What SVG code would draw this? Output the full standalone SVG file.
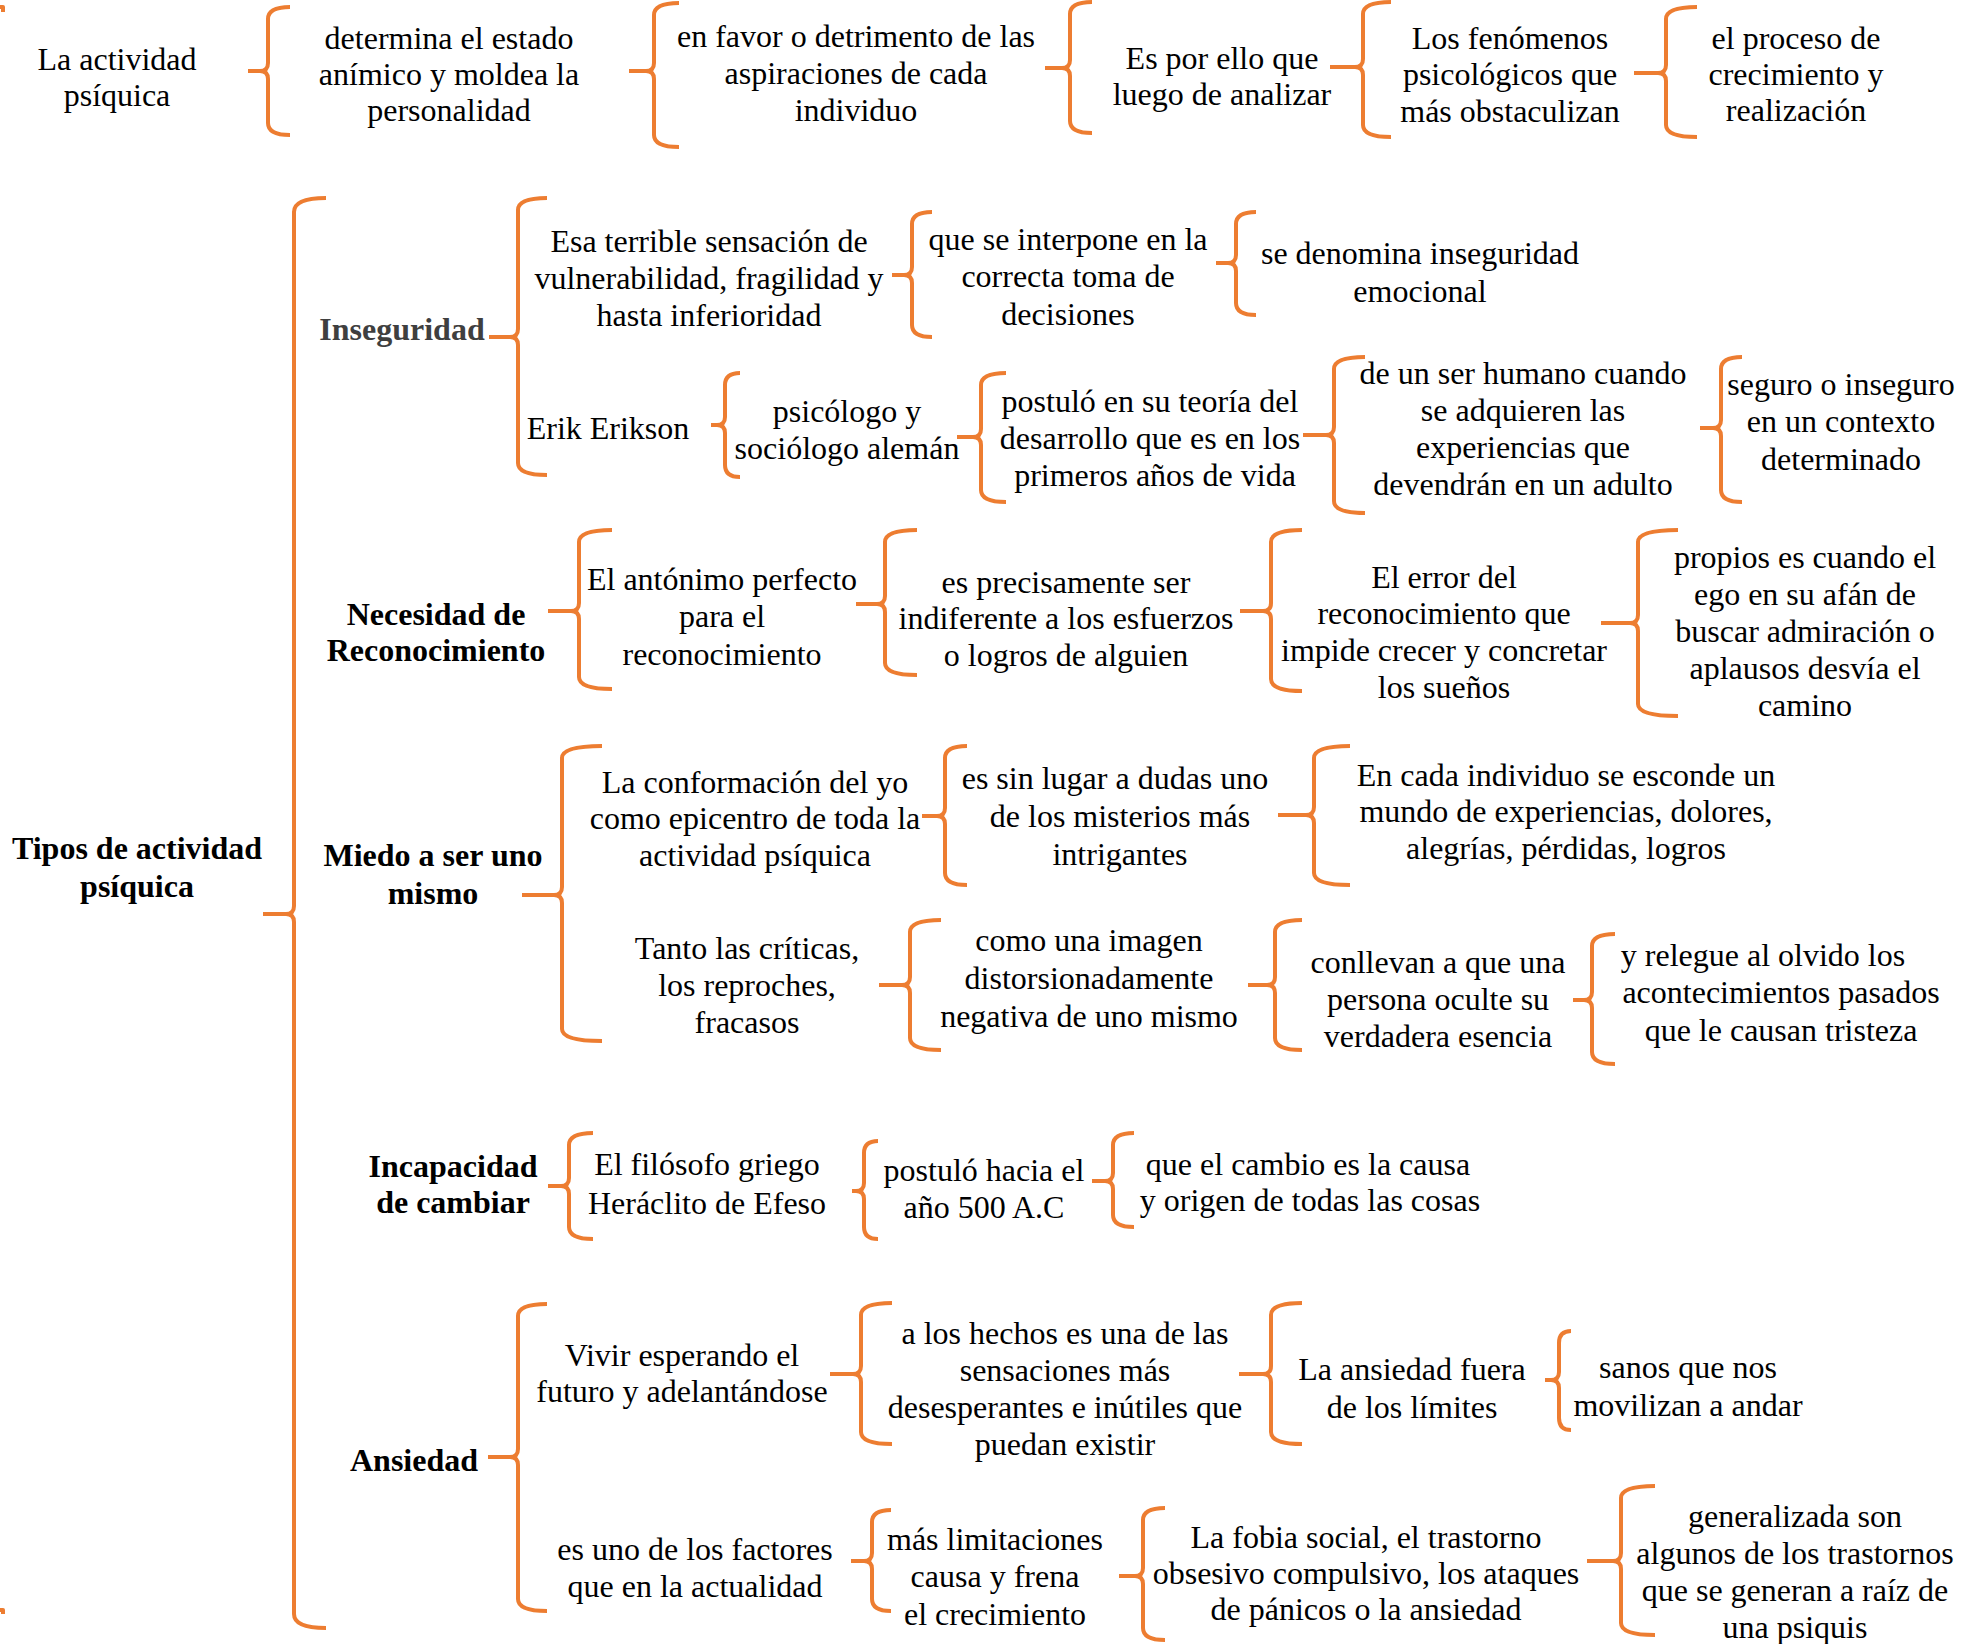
<svg xmlns="http://www.w3.org/2000/svg" width="1963" height="1644" viewBox="0 0 1963 1644">
<style>
.t{font-family:"Liberation Serif","Times New Roman",serif;font-size:32px;fill:#000;text-anchor:middle}
.b{font-weight:bold}
.g{fill:#3f3f3f}
.br{fill:none;stroke:#ED7D31;stroke-width:4;stroke-linejoin:round}
</style>
<rect width="1963" height="1644" fill="#fff"/>
<g id="connectors">
<path class="br" d="M0,7 H3 V12"/>
<path class="br" d="M0,1610 H3 V1614"/>
<path class="br" d="M290,7 Q268,7 268,19 V63 Q268,71 260,71 H248 M260,71 Q268,71 268,79 V123 Q268,135 290,135"/>
<path class="br" d="M679,3 Q654,3 654,15 V63 Q654,71 646,71 H629 M646,71 Q654,71 654,79 V135 Q654,147 679,147"/>
<path class="br" d="M1092,2 Q1070,2 1070,14 V60 Q1070,68 1062,68 H1045 M1062,68 Q1070,68 1070,76 V121 Q1070,133 1092,133"/>
<path class="br" d="M1391,2 Q1363,2 1363,14 V59 Q1363,67 1355,67 H1330 M1355,67 Q1363,67 1363,75 V125 Q1363,137 1391,137"/>
<path class="br" d="M1697,7 Q1666,7 1666,19 V65 Q1666,73 1658,73 H1634 M1658,73 Q1666,73 1666,81 V125 Q1666,137 1697,137"/>
<path class="br" d="M326,198 Q294,198 294,212 V906 Q294,914 286,914 H263 M286,914 Q294,914 294,922 V1614 Q294,1628 326,1628"/>
<path class="br" d="M547,198 Q518,198 518,210 V329 Q518,337 510,337 H489 M510,337 Q518,337 518,345 V463 Q518,475 547,475"/>
<path class="br" d="M932,212 Q912,212 912,224 V267 Q912,275 904,275 H892 M904,275 Q912,275 912,283 V325 Q912,337 932,337"/>
<path class="br" d="M1256,212 Q1236,212 1236,224 V255 Q1236,263 1228,263 H1216 M1228,263 Q1236,263 1236,271 V303 Q1236,315 1256,315"/>
<path class="br" d="M740,373 Q725,373 725,385 V417 Q725,425 717,425 H711 M717,425 Q725,425 725,433 V465 Q725,477 740,477"/>
<path class="br" d="M1006,373 Q981,373 981,385 V429 Q981,437 973,437 H957 M973,437 Q981,437 981,445 V490 Q981,502 1006,502"/>
<path class="br" d="M1365,357 Q1334,357 1334,369 V427 Q1334,435 1326,435 H1303 M1326,435 Q1334,435 1334,443 V501 Q1334,513 1365,513"/>
<path class="br" d="M1742,357 Q1721,357 1721,369 V420 Q1721,428 1713,428 H1700 M1713,428 Q1721,428 1721,436 V490 Q1721,502 1742,502"/>
<path class="br" d="M612,530 Q579,530 579,542 V603 Q579,611 571,611 H548 M571,611 Q579,611 579,619 V677 Q579,689 612,689"/>
<path class="br" d="M917,530 Q885,530 885,542 V596 Q885,604 877,604 H856 M877,604 Q885,604 885,612 V663 Q885,675 917,675"/>
<path class="br" d="M1302,530 Q1271,530 1271,542 V603 Q1271,611 1263,611 H1240 M1263,611 Q1271,611 1271,619 V679 Q1271,691 1302,691"/>
<path class="br" d="M1678,530 Q1638,530 1638,542 V615 Q1638,623 1630,623 H1601 M1630,623 Q1638,623 1638,631 V704 Q1638,716 1678,716"/>
<path class="br" d="M602,746 Q562,746 562,758 V887 Q562,895 554,895 H522 M554,895 Q562,895 562,903 V1029 Q562,1041 602,1041"/>
<path class="br" d="M967,746 Q945,746 945,758 V808 Q945,816 937,816 H922 M937,816 Q945,816 945,824 V873 Q945,885 967,885"/>
<path class="br" d="M1350,746 Q1314,746 1314,758 V807 Q1314,815 1306,815 H1278 M1306,815 Q1314,815 1314,823 V873 Q1314,885 1350,885"/>
<path class="br" d="M941,920 Q910,920 910,932 V977 Q910,985 902,985 H879 M902,985 Q910,985 910,993 V1038 Q910,1050 941,1050"/>
<path class="br" d="M1302,920 Q1275,920 1275,932 V977 Q1275,985 1267,985 H1248 M1267,985 Q1275,985 1275,993 V1038 Q1275,1050 1302,1050"/>
<path class="br" d="M1615,934 Q1592,934 1592,946 V992 Q1592,1000 1584,1000 H1573 M1584,1000 Q1592,1000 1592,1008 V1052 Q1592,1064 1615,1064"/>
<path class="br" d="M593,1133 Q569,1133 569,1145 V1178 Q569,1186 561,1186 H548 M561,1186 Q569,1186 569,1194 V1227 Q569,1239 593,1239"/>
<path class="br" d="M878,1141 Q864,1141 864,1153 V1183 Q864,1191 856,1191 H852 M856,1191 Q864,1191 864,1199 V1227 Q864,1239 878,1239"/>
<path class="br" d="M1134,1133 Q1113,1133 1113,1145 V1173 Q1113,1181 1105,1181 H1092 M1105,1181 Q1113,1181 1113,1189 V1215 Q1113,1227 1134,1227"/>
<path class="br" d="M547,1304 Q518,1304 518,1316 V1449 Q518,1457 510,1457 H488 M510,1457 Q518,1457 518,1465 V1599 Q518,1611 547,1611"/>
<path class="br" d="M892,1303 Q861,1303 861,1315 V1366 Q861,1374 853,1374 H830 M853,1374 Q861,1374 861,1382 V1432 Q861,1444 892,1444"/>
<path class="br" d="M1302,1303 Q1271,1303 1271,1315 V1366 Q1271,1374 1263,1374 H1239 M1263,1374 Q1271,1374 1271,1382 V1432 Q1271,1444 1302,1444"/>
<path class="br" d="M1571,1331 Q1559,1331 1559,1343 V1372 Q1559,1380 1551,1380 H1545 M1551,1380 Q1559,1380 1559,1388 V1418 Q1559,1430 1571,1430"/>
<path class="br" d="M891,1510 Q872,1510 872,1522 V1553 Q872,1561 864,1561 H851 M864,1561 Q872,1561 872,1569 V1599 Q872,1611 891,1611"/>
<path class="br" d="M1165,1508 Q1143,1508 1143,1520 V1568 Q1143,1576 1135,1576 H1119 M1135,1576 Q1143,1576 1143,1584 V1628 Q1143,1640 1165,1640"/>
<path class="br" d="M1655,1486 Q1621,1486 1621,1498 V1553 Q1621,1561 1613,1561 H1587 M1613,1561 Q1621,1561 1621,1569 V1623 Q1621,1635 1655,1635"/>
</g>
<g id="nodes" transform="translate(0,1.5)">
<g id="n-actividad"><text class="t" x="117" y="68"><tspan x="117">La actividad</tspan><tspan x="117" dy="36">psíquica</tspan></text></g>
<g id="n-determina"><text class="t" x="449" y="47"><tspan x="449">determina el estado</tspan><tspan x="449" dy="36">anímico y moldea la</tspan><tspan x="449" dy="36">personalidad</tspan></text></g>
<g id="n-favor"><text class="t" x="856" y="45"><tspan x="856">en favor o detrimento de las</tspan><tspan x="856" dy="37">aspiraciones de cada</tspan><tspan x="856" dy="37">individuo</tspan></text></g>
<g id="n-esporello"><text class="t" x="1222" y="67"><tspan x="1222">Es por ello que</tspan><tspan x="1222" dy="36">luego de analizar</tspan></text></g>
<g id="n-fenomenos"><text class="t" x="1510" y="47"><tspan x="1510">Los fenómenos</tspan><tspan x="1510" dy="36.5">psicológicos que</tspan><tspan x="1510" dy="36.5">más obstaculizan</tspan></text></g>
<g id="n-proceso"><text class="t" x="1796" y="47"><tspan x="1796">el proceso de</tspan><tspan x="1796" dy="36">crecimiento y</tspan><tspan x="1796" dy="36">realización</tspan></text></g>
<g id="n-tipos"><text class="t b" x="137" y="857"><tspan x="137">Tipos de actividad</tspan><tspan x="137" dy="38">psíquica</tspan></text></g>
<g id="n-inseguridad"><text class="t b g" x="402" y="338">Inseguridad</text></g>
<g id="n-esa"><text class="t" x="709" y="250"><tspan x="709">Esa terrible sensación de</tspan><tspan x="709" dy="37">vulnerabilidad, fragilidad y</tspan><tspan x="709" dy="37">hasta inferioridad</tspan></text></g>
<g id="n-interpone"><text class="t" x="1068" y="248"><tspan x="1068">que se interpone en la</tspan><tspan x="1068" dy="37.5">correcta toma de</tspan><tspan x="1068" dy="37.5">decisiones</tspan></text></g>
<g id="n-denomina"><text class="t" x="1420" y="262"><tspan x="1420">se denomina inseguridad</tspan><tspan x="1420" dy="38">emocional</tspan></text></g>
<g id="n-erik"><text class="t" x="608" y="437">Erik Erikson</text></g>
<g id="n-psicologo"><text class="t" x="847" y="420"><tspan x="847">psicólogo y</tspan><tspan x="847" dy="37">sociólogo alemán</tspan></text></g>
<g id="n-postulo"><text class="t" x="1150" y="410"><tspan x="1150">postuló en su teoría del</tspan><tspan x="1150" dy="37">desarrollo que es en los</tspan><tspan x="1155" dy="37">primeros años de vida</tspan></text></g>
<g id="n-serhumano"><text class="t" x="1523" y="382"><tspan x="1523">de un ser humano cuando</tspan><tspan x="1523" dy="37">se adquieren las</tspan><tspan x="1523" dy="37">experiencias que</tspan><tspan x="1523" dy="37">devendrán en un adulto</tspan></text></g>
<g id="n-seguro"><text class="t" x="1841" y="393"><tspan x="1841">seguro o inseguro</tspan><tspan x="1841" dy="37.5">en un contexto</tspan><tspan x="1841" dy="37.5">determinado</tspan></text></g>
<g id="n-necesidad"><text class="t b" x="436" y="623"><tspan x="436">Necesidad de</tspan><tspan x="436" dy="36">Reconocimiento</tspan></text></g>
<g id="n-antonimo"><text class="t" x="722" y="588"><tspan x="722">El antónimo perfecto</tspan><tspan x="722" dy="37.5">para el</tspan><tspan x="722" dy="37.5">reconocimiento</tspan></text></g>
<g id="n-precisamente"><text class="t" x="1066" y="591"><tspan x="1066">es precisamente ser</tspan><tspan x="1066" dy="36.5">indiferente a los esfuerzos</tspan><tspan x="1066" dy="36.5">o logros de alguien</tspan></text></g>
<g id="n-error"><text class="t" x="1444" y="586"><tspan x="1444">El error del</tspan><tspan x="1444" dy="36.7">reconocimiento que</tspan><tspan x="1444" dy="36.7">impide crecer y concretar</tspan><tspan x="1444" dy="36.7">los sueños</tspan></text></g>
<g id="n-propios"><text class="t" x="1805" y="566"><tspan x="1805">propios es cuando el</tspan><tspan x="1805" dy="37">ego en su afán de</tspan><tspan x="1805" dy="37">buscar admiración o</tspan><tspan x="1805" dy="37">aplausos desvía el</tspan><tspan x="1805" dy="37">camino</tspan></text></g>
<g id="n-miedo"><text class="t b" x="433" y="864"><tspan x="433">Miedo a ser uno</tspan><tspan x="433" dy="38">mismo</tspan></text></g>
<g id="n-conformacion"><text class="t" x="755" y="791"><tspan x="755">La conformación del yo</tspan><tspan x="755" dy="36.5">como epicentro de toda la</tspan><tspan x="755" dy="36.5">actividad psíquica</tspan></text></g>
<g id="n-sinlugar"><text class="t" x="1120" y="787"><tspan x="1115">es sin lugar a dudas uno</tspan><tspan x="1120" dy="38">de los misterios más</tspan><tspan x="1120" dy="38">intrigantes</tspan></text></g>
<g id="n-encada"><text class="t" x="1566" y="784"><tspan x="1566">En cada individuo se esconde un</tspan><tspan x="1566" dy="36.5">mundo de experiencias, dolores,</tspan><tspan x="1566" dy="36.5">alegrías, pérdidas, logros</tspan></text></g>
<g id="n-tanto"><text class="t" x="747" y="957"><tspan x="747">Tanto las críticas,</tspan><tspan x="747" dy="37">los reproches,</tspan><tspan x="747" dy="37">fracasos</tspan></text></g>
<g id="n-imagen"><text class="t" x="1089" y="949"><tspan x="1089">como una imagen</tspan><tspan x="1089" dy="38">distorsionadamente</tspan><tspan x="1089" dy="38">negativa de uno mismo</tspan></text></g>
<g id="n-conllevan"><text class="t" x="1438" y="971"><tspan x="1438">conllevan a que una</tspan><tspan x="1438" dy="37">persona oculte su</tspan><tspan x="1438" dy="37">verdadera esencia</tspan></text></g>
<g id="n-relegue"><text class="t" x="1763" y="964"><tspan x="1763">y relegue al olvido los</tspan><tspan x="1781" dy="37.5">acontecimientos pasados</tspan><tspan x="1781" dy="37.5">que le causan tristeza</tspan></text></g>
<g id="n-incapacidad"><text class="t b" x="453" y="1175"><tspan x="453">Incapacidad</tspan><tspan x="453" dy="36">de cambiar</tspan></text></g>
<g id="n-filosofo"><text class="t" x="707" y="1173"><tspan x="707">El filósofo griego</tspan><tspan x="707" dy="39">Heráclito de Efeso</tspan></text></g>
<g id="n-hacia"><text class="t" x="984" y="1179"><tspan x="984">postuló hacia el</tspan><tspan x="984" dy="37">año 500 A.C</tspan></text></g>
<g id="n-cambio"><text class="t" x="1308" y="1173"><tspan x="1308">que el cambio es la causa</tspan><tspan x="1310" dy="36">y origen de todas las cosas</tspan></text></g>
<g id="n-ansiedad"><text class="t b" x="414" y="1469">Ansiedad</text></g>
<g id="n-vivir"><text class="t" x="682" y="1364"><tspan x="682">Vivir esperando el</tspan><tspan x="682" dy="36">futuro y adelantándose</tspan></text></g>
<g id="n-hechos"><text class="t" x="1065" y="1342"><tspan x="1065">a los hechos es una de las</tspan><tspan x="1065" dy="37">sensaciones más</tspan><tspan x="1065" dy="37">desesperantes e inútiles que</tspan><tspan x="1065" dy="37">puedan existir</tspan></text></g>
<g id="n-fuera"><text class="t" x="1412" y="1378"><tspan x="1412">La ansiedad fuera</tspan><tspan x="1412" dy="38">de los límites</tspan></text></g>
<g id="n-sanos"><text class="t" x="1688" y="1376"><tspan x="1688">sanos que nos</tspan><tspan x="1688" dy="38">movilizan a andar</tspan></text></g>
<g id="n-factores"><text class="t" x="695" y="1558"><tspan x="695">es uno de los factores</tspan><tspan x="695" dy="37">que en la actualidad</tspan></text></g>
<g id="n-limitaciones"><text class="t" x="995" y="1548"><tspan x="995">más limitaciones</tspan><tspan x="995" dy="37.5">causa y frena</tspan><tspan x="995" dy="37.5">el crecimiento</tspan></text></g>
<g id="n-fobia"><text class="t" x="1366" y="1546"><tspan x="1366">La fobia social, el trastorno</tspan><tspan x="1366" dy="36">obsesivo compulsivo, los ataques</tspan><tspan x="1366" dy="36">de pánicos o la ansiedad</tspan></text></g>
<g id="n-generalizada"><text class="t" x="1795" y="1525"><tspan x="1795">generalizada son</tspan><tspan x="1795" dy="37">algunos de los trastornos</tspan><tspan x="1795" dy="37">que se generan a raíz de</tspan><tspan x="1795" dy="37">una psiquis</tspan></text></g>
</g>
</svg>
